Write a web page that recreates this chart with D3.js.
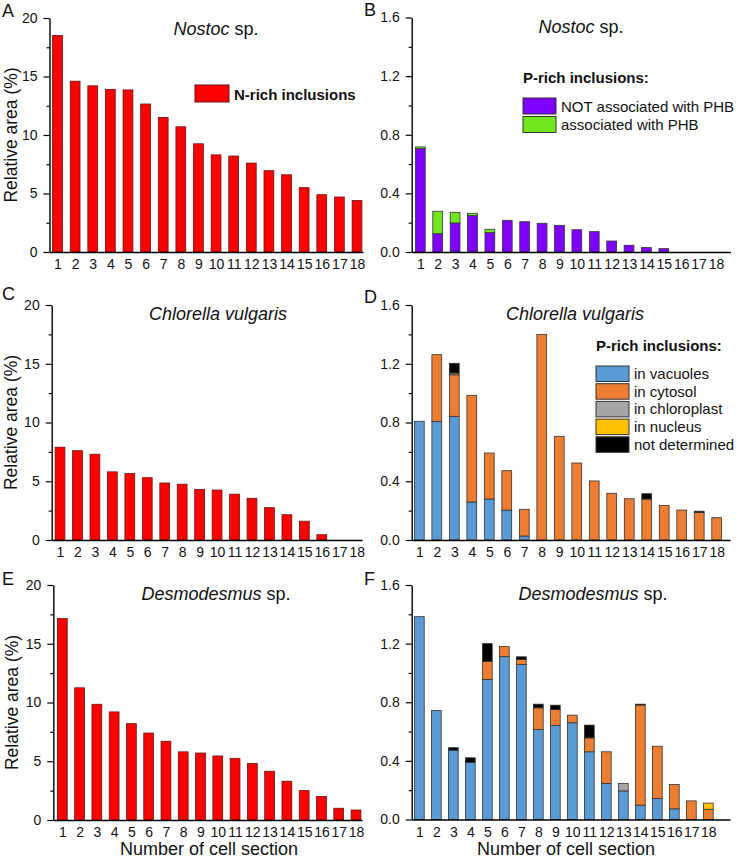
<!DOCTYPE html>
<html><head><meta charset="utf-8">
<script src="https://cdn.jsdelivr.net/npm/d3@7"></script>
<style>
body{margin:0;background:#fff}
svg{display:block}
text{font-family:"Liberation Sans",Arial,sans-serif;fill:#111}
</style>
</head><body>
<svg id="chart" width="736" height="858"></svg>
<script>
// ---------- DATA ----------
const categories = [1,2,3,4,5,6,7,8,9,10,11,12,13,14,15,16,17,18];

const leftTicks = [0,5,10,15,20];
const leftMinor = [2.5,7.5,12.5,17.5];
const rightTicks = [0,0.4,0.8,1.2,1.6];
const rightMinor = [0.2,0.6,1.0,1.4];

// N-rich inclusions (relative area, %)
const nostocN    = [18.5,14.6,14.2,13.9,13.85,12.65,11.5,10.7,9.25,8.3,8.2,7.6,6.95,6.6,5.5,4.9,4.7,4.4];
const chlorellaN = [7.9,7.6,7.3,5.8,5.65,5.3,4.85,4.75,4.3,4.25,3.9,3.55,2.75,2.15,1.6,0.45,0,0];
const desmoN     = [17.15,11.25,9.85,9.2,8.2,7.4,6.7,5.8,5.7,5.45,5.25,4.8,4.15,3.3,2.5,2.0,1.0,0.85];

// Nostoc P-rich inclusions
const nostocNotPHB = [0.705,0.125,0.198,0.248,0.132,0.216,0.207,0.196,0.182,0.152,0.139,0.075,0.046,0.03,0.023,0,0,0];
const nostocPHB    = [0.012,0.153,0.073,0.016,0.023,0,0,0,0,0,0,0,0,0,0,0,0,0];

// Chlorella P-rich inclusions
const chlVacuoles    = [0.808,0.806,0.842,0.259,0.279,0.204,0.027,0,0,0,0,0,0,0,0,0,0,0];
const chlCytosol     = [0,0.456,0.283,0.726,0.313,0.268,0.182,1.40,0.706,0.524,0.402,0.318,0.281,0.279,0.236,0.204,0.188,0.152];
const chlChloroplast = [0,0,0.012,0,0,0,0,0,0,0,0,0,0,0,0,0,0,0];
const chlNucleus     = [0,0,0,0,0,0,0,0,0,0,0,0,0,0,0,0,0,0];
const chlUndetermined= [0,0,0.066,0,0,0,0,0,0,0,0,0,0,0.036,0,0,0.008,0];

// Desmodesmus P-rich inclusions
const desVacuoles    = [1.384,0.744,0.473,0.389,0.956,1.111,1.058,0.614,0.642,0.66,0.462,0.246,0.195,0.098,0.143,0.073,0,0];
const desCytosol     = [0,0,0,0,0.123,0.069,0.034,0.148,0.109,0.052,0.095,0.216,0,0.683,0.357,0.166,0.127,0.07];
const desChloroplast = [0,0,0,0,0,0,0,0,0,0,0,0,0.051,0,0,0,0,0];
const desNucleus     = [0,0,0,0,0,0,0,0,0,0,0,0,0,0,0,0,0,0.042];
const desUndetermined= [0,0,0.017,0.032,0.121,0,0.018,0.025,0.029,0,0.087,0,0,0.006,0,0,0,0];

const nostocKeys = ["NOT associated with PHB","associated with PHB"];
const locKeys = ["in vacuoles","in cytosol","in chloroplast","in nucleus","not determined"];

// ---------- STYLE ----------
const colN = "#ff0000";
const colNostoc = {"NOT associated with PHB":"#7f00ff","associated with PHB":"#72e61c"};
const colLoc = {"in vacuoles":"#5b9bd5","in cytosol":"#ed7d31","in chloroplast":"#a5a5a5","in nucleus":"#ffc000","not determined":"#000000"};

const svg = d3.select("#chart");
const FONT = '"Liberation Sans",Arial,sans-serif';

function buildTable(keys, arrays){
  return categories.map((c,i)=>{
    const o = {cat:c};
    keys.forEach((k,j)=>{ o[k] = arrays[j][i]; });
    return o;
  });
}

function drawPanel(p){
  const step = (p.c18 - p.c1)/17;
  const d0 = 1 - (p.c1 - p.axisX)/step;
  const d1 = 18 + (p.end - p.c18)/step;
  const x = d3.scaleLinear().domain([d0,d1]).range([p.axisX,p.end]);
  const y = d3.scaleLinear().domain([0,p.ymax]).range([p.bottom,p.top]);
  const bw = 9.8;
  const g = svg.append("g");

  const stacked = d3.stack().keys(p.keys)(p.table);
  stacked.forEach(layer=>{
    g.append("g").selectAll("rect")
      .data(layer.filter(d=>d[1]-d[0]>0))
      .join("rect")
      .attr("x", d=>x(d.data.cat)-bw/2)
      .attr("width", bw)
      .attr("y", d=>y(d[1]))
      .attr("height", d=>y(d[0])-y(d[1]))
      .attr("fill", p.colors[layer.key])
      .attr("stroke", p.stroke)
      .attr("stroke-width", 0.8);
  });

  // y axis (major + minor)
  const ya = g.append("g").attr("transform",`translate(${p.axisX},0)`)
    .call(d3.axisLeft(y).tickValues(p.ticks).tickSize(6).tickSizeOuter(0).tickPadding(6)
      .tickFormat(p.fmt));
  const ym = g.append("g").attr("transform",`translate(${p.axisX},0)`)
    .call(d3.axisLeft(y).tickValues(p.minor).tickSize(3).tickSizeOuter(0).tickFormat(""));
  ym.select(".domain").remove();
  [ya,ym].forEach(a=>{
    a.selectAll("line").attr("stroke","#000").attr("stroke-width",1.2);
    a.select(".domain").attr("stroke","#000").attr("stroke-width",1.4);
  });
  ya.selectAll("text").attr("font-size",14).attr("font-family",FONT).attr("fill","#111");

  // x axis
  const xa = g.append("g").attr("transform",`translate(0,${p.bottom})`)
    .call(d3.axisBottom(x).tickValues(categories).tickSize(0).tickPadding(7.5).tickFormat(d3.format("d")));
  xa.select(".domain").attr("stroke","#000").attr("stroke-width",1.4);
  xa.selectAll("text").attr("font-size",14).attr("font-family",FONT).attr("fill","#111");

  // panel letter
  g.append("text").attr("x",p.letterX).attr("y",p.letterY).attr("font-size",18).text(p.letter);

  // title
  const t = g.append("text").attr("x",p.titleX).attr("y",p.titleY).attr("text-anchor","middle").attr("font-size",18);
  t.append("tspan").attr("font-style","italic").text(p.titleItalic);
  if(p.titleRest) t.append("tspan").text(p.titleRest);

  // y title
  if(p.yTitle){
    const cy = (p.top+p.bottom)/2;
    g.append("text").attr("transform",`translate(${p.yTitleX},${cy}) rotate(-90)`)
      .attr("text-anchor","middle").attr("font-size",17.5).text(p.yTitle);
  }
  // x title
  if(p.xTitle){
    g.append("text").attr("x",p.xTitleX).attr("y",855).attr("text-anchor","middle")
      .attr("font-size",18).text(p.xTitle);
  }
  return g;
}

function legend(g, lx, ly, header, keys, colors, stride, rw, rh, fs, stroke){
  if(header){
    g.append("text").attr("x",lx).attr("y",ly).attr("font-size",15).attr("font-weight","bold").text(header);
  }
  keys.forEach((k,i)=>{
    const top = ly + (header?15:0) + i*stride;
    g.append("rect").attr("x",lx).attr("y",top).attr("width",rw).attr("height",rh)
      .attr("fill",colors[k]).attr("stroke",stroke).attr("stroke-width",1);
    g.append("text").attr("x",lx+rw+5).attr("y",top+rh-2.5).attr("font-size",fs)
      .attr("font-weight", header?"normal":"bold").text(k);
  });
}

const fmtL = d3.format("d");
const fmtR = d3.format(".1f");
const darkRed = "#6b1010";
const dark = "#333";

// Panel A
const gA = drawPanel({table:buildTable(["N-rich inclusions"],[nostocN]), keys:["N-rich inclusions"],
  colors:{"N-rich inclusions":colN}, stroke:darkRed, ymax:20, ticks:leftTicks, minor:leftMinor, fmt:fmtL,
  axisX:49.5, c1:57.5, c18:357, end:363, top:18, bottom:252,
  letter:"A", letterX:2, letterY:16.5, titleX:216, titleY:35, titleItalic:"Nostoc", titleRest:" sp.",
  yTitle:"Relative area (%)", yTitleX:16.5});
legend(gA, 195, 85, null, ["N-rich inclusions"], {"N-rich inclusions":colN}, 18, 34, 17, 15, darkRed);

// Panel B
const gB = drawPanel({table:buildTable(nostocKeys,[nostocNotPHB,nostocPHB]), keys:nostocKeys,
  colors:colNostoc, stroke:dark, ymax:1.6, ticks:rightTicks, minor:rightMinor, fmt:fmtR,
  axisX:411.7, c1:420.3, c18:716, end:730.5, top:17.5, bottom:252,
  letter:"B", letterX:364, letterY:15.5, titleX:581, titleY:33, titleItalic:"Nostoc", titleRest:" sp."});
legend(gB, 523, 83, "P-rich inclusions:", nostocKeys, colNostoc, 18.5, 33, 16, 15, dark);

// Panel C
drawPanel({table:buildTable(["N-rich inclusions"],[chlorellaN]), keys:["N-rich inclusions"],
  colors:{"N-rich inclusions":colN}, stroke:darkRed, ymax:20, ticks:leftTicks, minor:leftMinor, fmt:fmtL,
  axisX:51.7, c1:60, c18:356.7, end:362, top:305, bottom:540,
  letter:"C", letterX:2, letterY:300, titleX:218, titleY:320, titleItalic:"Chlorella vulgaris", titleRest:"",
  yTitle:"Relative area (%)", yTitleX:17});

// Panel D
const gD = drawPanel({table:buildTable(locKeys,[chlVacuoles,chlCytosol,chlChloroplast,chlNucleus,chlUndetermined]), keys:locKeys,
  colors:colLoc, stroke:dark, ymax:1.6, ticks:rightTicks, minor:rightMinor, fmt:fmtR,
  axisX:411.7, c1:419.3, c18:716.7, end:730, top:305, bottom:540,
  letter:"D", letterX:364, letterY:303, titleX:575, titleY:320, titleItalic:"Chlorella vulgaris", titleRest:""});
legend(gD, 596, 351, "P-rich inclusions:", locKeys, colLoc, 17.7, 33, 15.5, 15, dark);

// Panel E
drawPanel({table:buildTable(["N-rich inclusions"],[desmoN]), keys:["N-rich inclusions"],
  colors:{"N-rich inclusions":colN}, stroke:darkRed, ymax:20, ticks:leftTicks, minor:leftMinor, fmt:fmtL,
  axisX:53.3, c1:62.3, c18:356, end:362, top:585, bottom:820,
  letter:"E", letterX:2, letterY:585, titleX:216, titleY:600, titleItalic:"Desmodesmus", titleRest:" sp.",
  yTitle:"Relative area (%)", yTitleX:17.5, xTitle:"Number of cell section", xTitleX:209});

// Panel F
drawPanel({table:buildTable(locKeys,[desVacuoles,desCytosol,desChloroplast,desNucleus,desUndetermined]), keys:locKeys,
  colors:colLoc, stroke:dark, ymax:1.6, ticks:rightTicks, minor:rightMinor, fmt:fmtR,
  axisX:411.7, c1:419.3, c18:708.3, end:730, top:585, bottom:819.5,
  letter:"F", letterX:364, letterY:585, titleX:593, titleY:600, titleItalic:"Desmodesmus", titleRest:" sp.",
  xTitle:"Number of cell section", xTitleX:566});
</script>
</body></html>
